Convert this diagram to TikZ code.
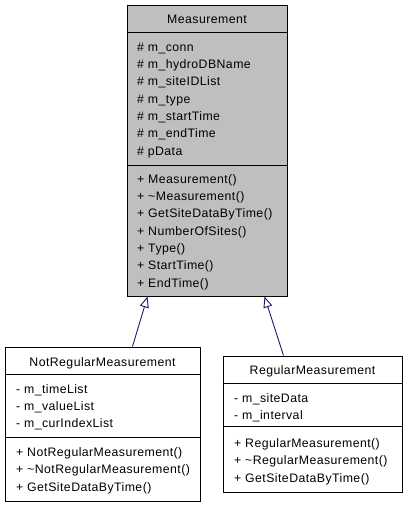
\documentclass[tikz,border=0pt]{standalone}
\usepackage{fontspec}
\setmainfont{Liberation Sans}[LetterSpace=3.5]
\usetikzlibrary{arrows.meta}
\definecolor{boxgray}{RGB}{191,191,191}
\definecolor{edgeblue}{RGB}{25,25,112}
\tikzset{
  classbox/.style={draw=black, line width=1pt, rectangle, inner sep=0pt},
  sepline/.style={draw=black, line width=1.3pt},
  txt/.style={anchor=base west, inner sep=0pt, font=\fontsize{12.3}{14}\selectfont},
  ttl/.style={anchor=base, inner sep=0pt, font=\fontsize{12.3}{14}\selectfont},
  inherit/.style={draw=edgeblue, line width=0.9pt, -{Triangle[open, length=11pt, width=9pt, fill=white]}}
}
\begin{document}
\begin{tikzpicture}[x=1pt,y=-1pt]
\useasboundingbox (0,0) rectangle (403,507);
% Measurement
\node[classbox, fill=boxgray, minimum width=160pt, minimum height=291pt] (M) at (207,150.5) {};
\draw[sepline] (M.north west) ++(0,28) coordinate (ms1) -- (ms1 -| M.east);
\draw[sepline] (M.north west) ++(0,161) coordinate (ms2) -- (ms2 -| M.east);
\node[ttl] (Mt) at (207,23) {Measurement};
\node[txt] (Ma1) at (137,51) {\# m\_conn};
\node[txt] (Ma2) at (137,68.3) {\# m\_hydroDBName};
\node[txt] (Ma3) at (137,85.7) {\# m\_siteIDList};
\node[txt] (Ma4) at (137,103) {\# m\_type};
\node[txt] (Ma5) at (137,120.3) {\# m\_startTime};
\node[txt] (Ma6) at (137,137.7) {\# m\_endTime};
\node[txt] (Ma7) at (137,155) {\# pData};
\node[txt] (Mm1) at (137,183) {+ Measurement()};
\node[txt] (Mm2) at (137,200.3) {+ \textasciitilde Measurement()};
\node[txt] (Mm3) at (137,217.7) {+ GetSiteDataByTime()};
\node[txt] (Mm4) at (137,235) {+ NumberOfSites()};
\node[txt] (Mm5) at (137,252.3) {+ Type()};
\node[txt] (Mm6) at (137,269.7) {+ StartTime()};
\node[txt] (Mm7) at (137,287) {+ EndTime()};
% NotRegularMeasurement
\node[classbox, fill=white, minimum width=195pt, minimum height=154pt] (NR) at (102.5,424) {};
\draw[sepline] (NR.north west) ++(0,28) coordinate (ns1) -- (ns1 -| NR.east);
\draw[sepline] (NR.north west) ++(0,91) coordinate (ns2) -- (ns2 -| NR.east);
\node[ttl] (NRt) at (102.5,366) {NotRegularMeasurement};
\node[txt] (NRa1) at (16,393) {- m\_timeList};
\node[txt] (NRa2) at (16,410) {- m\_valueList};
\node[txt] (NRa3) at (16,427) {- m\_curIndexList};
\node[txt] (NRm1) at (16,456) {+ NotRegularMeasurement()};
\node[txt] (NRm2) at (16,473.5) {+ \textasciitilde NotRegularMeasurement()};
\node[txt] (NRm3) at (16,491) {+ GetSiteDataByTime()};
% RegularMeasurement
\node[classbox, fill=white, minimum width=179pt, minimum height=136pt] (R) at (312.5,424) {};
\draw[sepline] (R.north west) ++(0,28) coordinate (rs1) -- (rs1 -| R.east);
\draw[sepline] (R.north west) ++(0,71) coordinate (rs2) -- (rs2 -| R.east);
\node[ttl] (Rt) at (312.5,374) {RegularMeasurement};
\node[txt] (Ra1) at (234,402) {- m\_siteData};
\node[txt] (Ra2) at (234,419) {- m\_interval};
\node[txt] (Rm1) at (234,447) {+ RegularMeasurement()};
\node[txt] (Rm2) at (234,464.5) {+ \textasciitilde RegularMeasurement()};
\node[txt] (Rm3) at (234,482) {+ GetSiteDataByTime()};
% inheritance
\draw[inherit] ([xshift=128pt]NR.north west) -- ([xshift=21pt]M.south west);
\draw[inherit] ([xshift=61pt]R.north west) -- ([xshift=138pt]M.south west);
\end{tikzpicture}
\end{document}
